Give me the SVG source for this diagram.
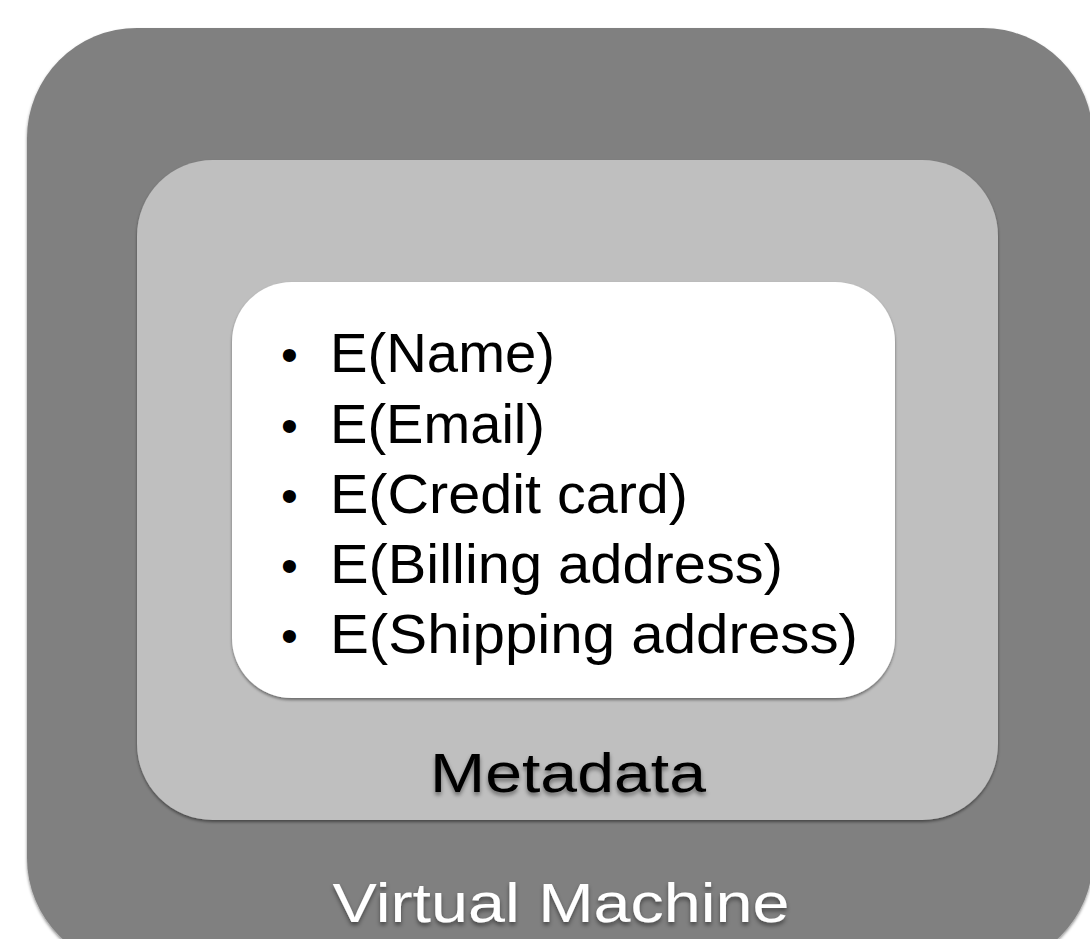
<svg xmlns="http://www.w3.org/2000/svg" width="1090" height="939" viewBox="0 0 1090 939">
  <defs>
    <filter id="boxShadow" x="-10%" y="-10%" width="120%" height="120%">
      <feDropShadow dx="0" dy="2" stdDeviation="1.5" flood-color="#000" flood-opacity="0.45"/>
    </filter>
    <filter id="textShadow" x="-10%" y="-20%" width="120%" height="150%">
      <feDropShadow dx="0" dy="3" stdDeviation="2" flood-color="#000" flood-opacity="0.45"/>
    </filter>
  </defs>
  <style>
    .item { font-family: "Liberation Sans", Arial, sans-serif; font-size: 55px; fill: #000; }
    .bullet { font-family: "Liberation Sans", Arial, sans-serif; font-size: 48px; fill: #000; }
    .label { font-family: "Liberation Sans", Arial, sans-serif; font-size: 56px; text-anchor: middle; }
  </style>
  <rect width="1090" height="939" fill="#ffffff"/>
  <g id="virtual-machine">
    <rect x="27" y="28" width="1066" height="940" rx="110" ry="110" fill="#808080" filter="url(#boxShadow)"/>
    <text class="label" x="561" y="922" fill="#ffffff" textLength="457" lengthAdjust="spacingAndGlyphs" filter="url(#textShadow)">Virtual Machine</text>
  </g>
  <g id="metadata">
    <rect x="137" y="160" width="861" height="660" rx="76" ry="76" fill="#bfbfbf" filter="url(#boxShadow)"/>
    <text class="label" x="568" y="792" fill="#000000" textLength="276" lengthAdjust="spacingAndGlyphs" filter="url(#textShadow)">Metadata</text>
  </g>
  <g id="encrypted-fields">
    <rect x="232" y="282" width="663" height="416" rx="60" ry="60" fill="#ffffff" filter="url(#boxShadow)"/>
    <text class="bullet" x="281" y="371">•</text>
    <text class="bullet" x="281" y="442">•</text>
    <text class="bullet" x="281" y="512">•</text>
    <text class="bullet" x="281" y="582">•</text>
    <text class="bullet" x="281" y="652">•</text>
    <text class="item" x="330" y="372" textLength="225" lengthAdjust="spacingAndGlyphs">E(Name)</text>
    <text class="item" x="330" y="443" textLength="215" lengthAdjust="spacingAndGlyphs">E(Email)</text>
    <text class="item" x="330" y="513" textLength="358" lengthAdjust="spacingAndGlyphs">E(Credit card)</text>
    <text class="item" x="330" y="583" textLength="453" lengthAdjust="spacingAndGlyphs">E(Billing address)</text>
    <text class="item" x="330" y="653" textLength="528" lengthAdjust="spacingAndGlyphs">E(Shipping address)</text>
  </g>
  <g id="connectors"></g>
</svg>
